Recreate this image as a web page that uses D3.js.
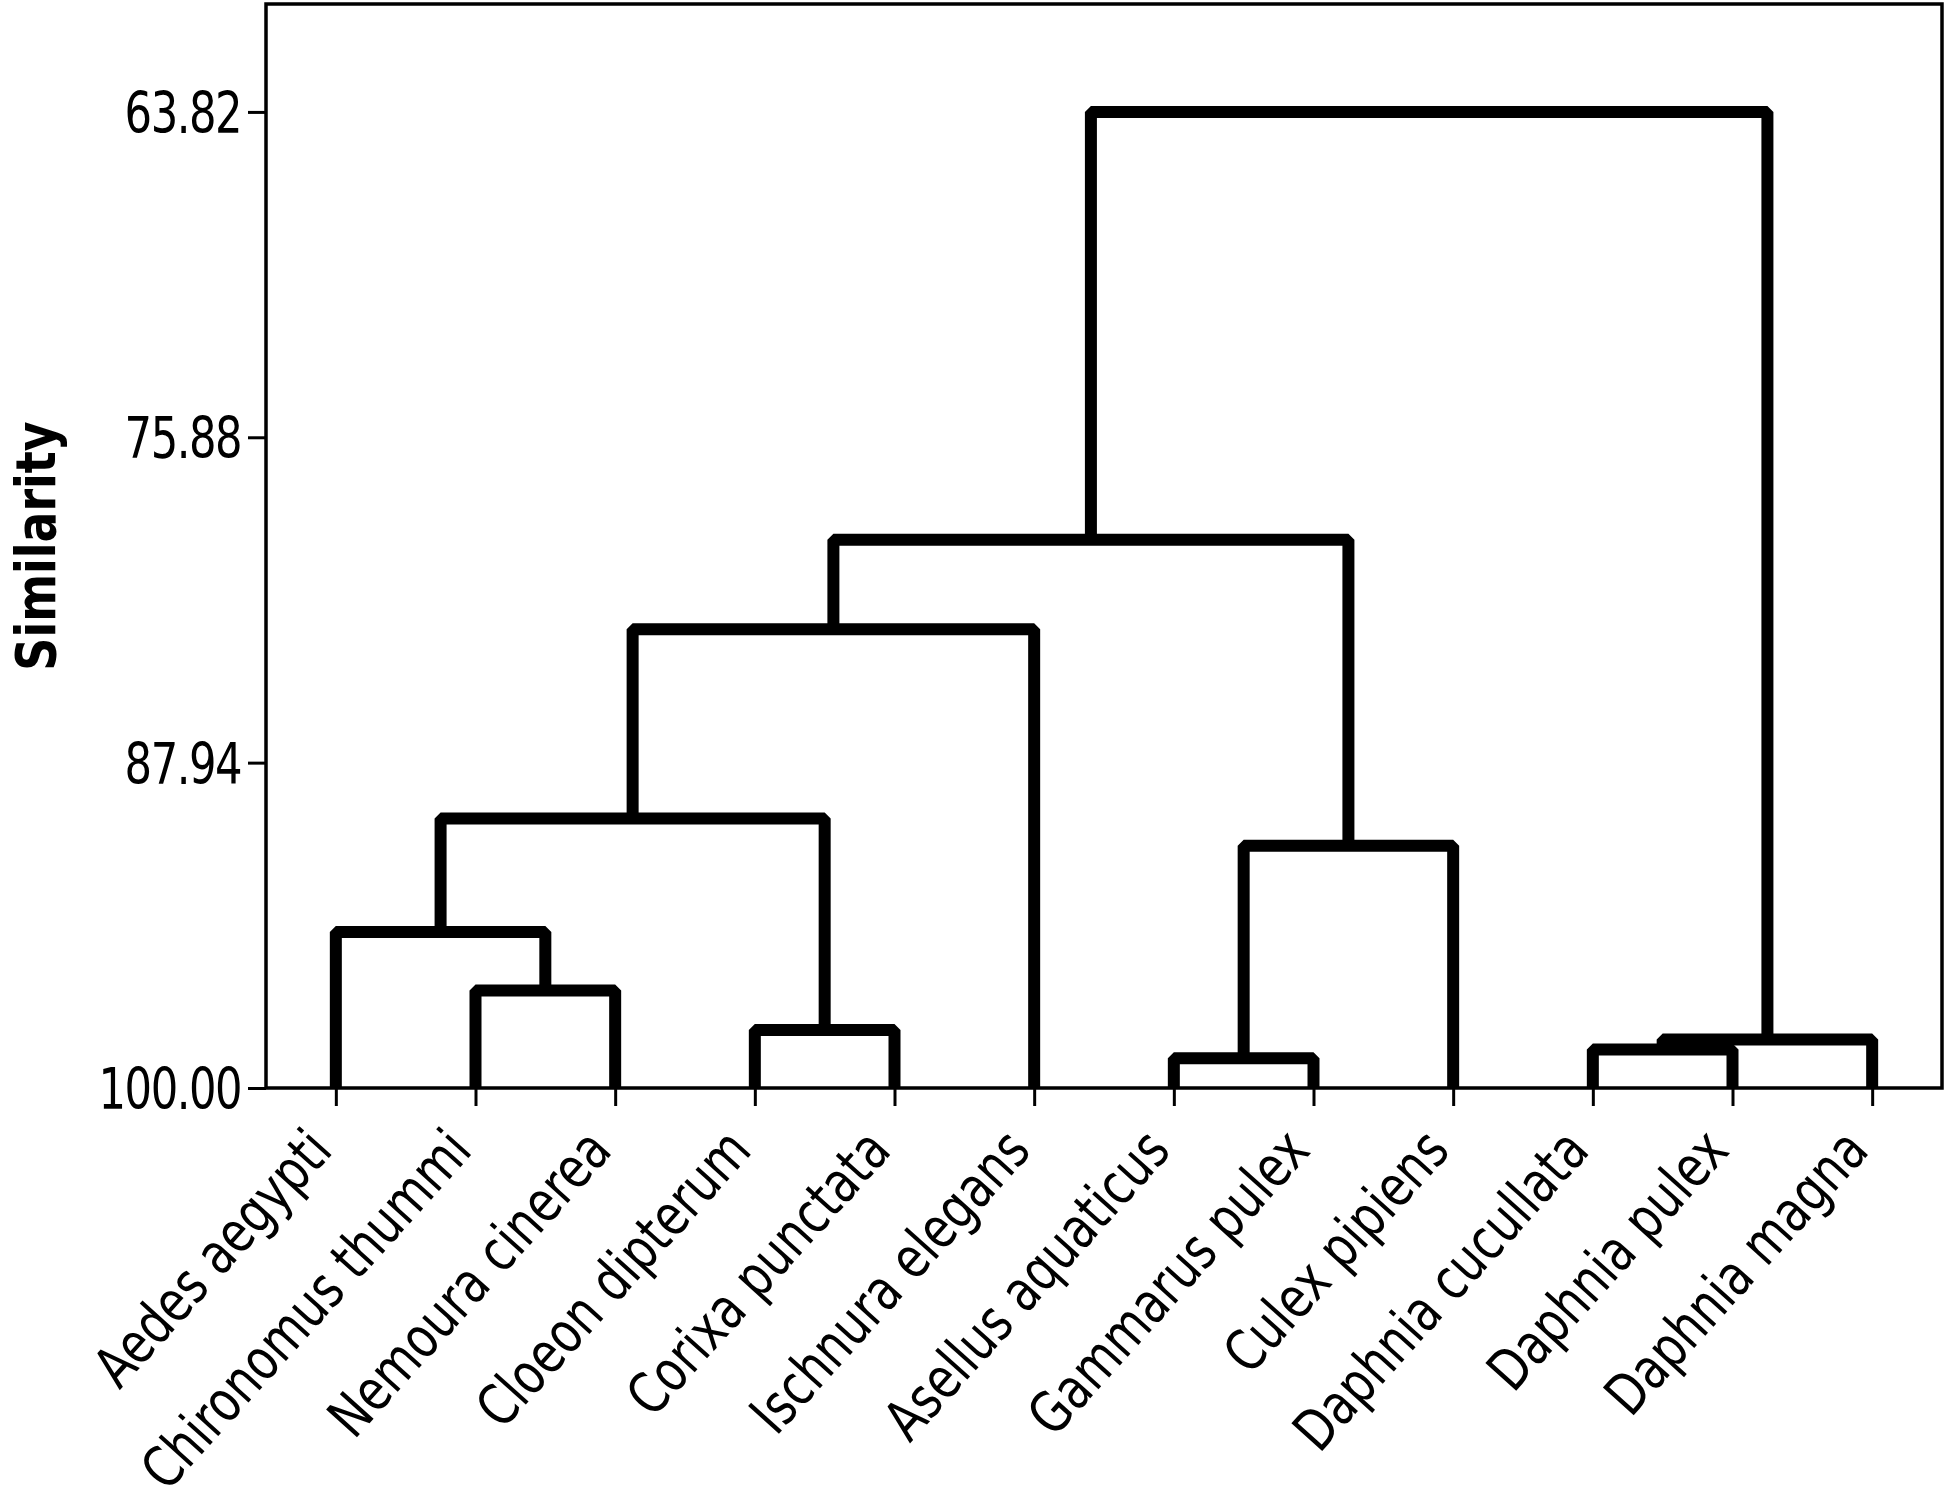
<!DOCTYPE html>
<html lang="en">

  <head>
    <meta charset="utf-8">
    <title>Dendrogram - Similarity</title>
    <script src="https://d3js.org/d3.v7.js"></script>
    <style>
      body { margin: 0; background: #fff; }
      text { font-family: "DejaVu Sans", Verdana, sans-serif; fill: #000; }
    </style>
  </head>

  <body>
    <script>

  // width and height
  var w = 1950;
  var h = 1507;
  var margin = {top: 4, right: 8, bottom: 419, left: 266};

  // leaves, left to right as drawn
  var species = ["Aedes aegypti", "Chironomus thummi", "Nemoura cinerea", "Cloeon dipterum",
                 "Corixa punctata", "Ischnura elegans", "Asellus aquaticus", "Gammarus pulex",
                 "Culex pipiens", "Daphnia cucullata", "Daphnia pulex", "Daphnia magna"];

  // linkage steps: cluster ids 0-11 are leaves, step k makes cluster 12 + k
  var joinLeft  = [6, 9, 13, 3, 1, 0, 12, 17, 19, 20, 21];
  var joinRight = [7, 10, 11, 4, 2, 16, 8, 15, 5, 18, 14];
  var joinSimilarity = [98.90, 98.57, 98.20, 97.85, 96.39, 94.22, 91.02, 90.01, 83.00, 79.68, 63.82];

  // y axis
  var yTicks = [63.82, 75.88, 87.94, 100.00];
  var yMin = 59.82;
  var yTitle = "Similarity";

  var svg = d3.select("body")
    .append("svg")
    .attr("width", w)
    .attr("height", h);

  // scales
  var xScale = d3.scalePoint()
    .domain(species)
    .range([margin.left, w - margin.right])
    .padding(0.5);

  var yScale = d3.scaleLinear()
    .domain([yMin, 100])
    .range([margin.top, h - margin.bottom]);

  // position and height of every cluster
  var nodes = species.map(s => ({x: xScale(s), sim: 100}));
  joinLeft.forEach(function (l, k) {
    var a = nodes[l], b = nodes[joinRight[k]];
    nodes.push({x: (a.x + b.x) / 2, sim: joinSimilarity[k], left: a, right: b});
  });
  var joins = nodes.slice(species.length);

  // frame
  svg.append("rect")
    .attr("x", margin.left)
    .attr("y", margin.top)
    .attr("width", w - margin.left - margin.right)
    .attr("height", h - margin.top - margin.bottom)
    .attr("fill", "none")
    .attr("stroke", "#000")
    .attr("stroke-width", 3.5);

  // dendrogram links
  svg.append("g")
    .selectAll("path")
    .data(joins)
    .enter()
    .append("path")
    .attr("d", d => "M" + d.left.x + "," + yScale(d.left.sim)
                  + "V" + yScale(d.sim)
                  + "H" + d.right.x
                  + "V" + yScale(d.right.sim))
    .attr("fill", "none")
    .attr("stroke", "#000")
    .attr("stroke-width", 12)
    .attr("stroke-linejoin", "bevel");

  // y axis
  var yAxis = d3.axisLeft(yScale)
    .tickValues(yTicks)
    .tickSize(18)
    .tickFormat(d3.format(".2f"));

  var yG = svg.append("g")
    .attr("transform", `translate(${margin.left}, 0)`)
    .call(yAxis);
  yG.select(".domain").remove();
  yG.selectAll("line").attr("stroke-width", 3);
  yG.selectAll("text")
    .attr("x", null)
    .attr("dy", "0.36em")
    .attr("transform", "translate(-25,0) scale(0.76,1)")
    .style("font-size", "57px")
    .style("letter-spacing", "-2px")
    .style("font-family", "DejaVu Sans");

  // x axis with slanted leaf names
  var xAxis = d3.axisBottom(xScale)
    .tickSize(18)
    .tickPadding(0);

  var xG = svg.append("g")
    .attr("transform", `translate(0, ${h - margin.bottom})`)
    .call(xAxis);
  xG.select(".domain").remove();
  xG.selectAll("line").attr("stroke-width", 3);
  xG.selectAll("text")
    .attr("y", null)
    .attr("dy", null)
    .attr("text-anchor", "end")
    .attr("transform", "translate(-2,64) rotate(-48) scale(0.79,1)")
    .style("font-size", "57px")
    .style("font-family", "DejaVu Sans");

  // y title
  svg.append("text")
    .attr("transform", `translate(55, ${(margin.top + h - margin.bottom) / 2}) rotate(-90) scale(0.82,1)`)
    .attr("text-anchor", "middle")
    .style("font-size", "56px")
    .style("font-weight", "bold")
    .text(yTitle);

    </script>
  </body>
</html>
